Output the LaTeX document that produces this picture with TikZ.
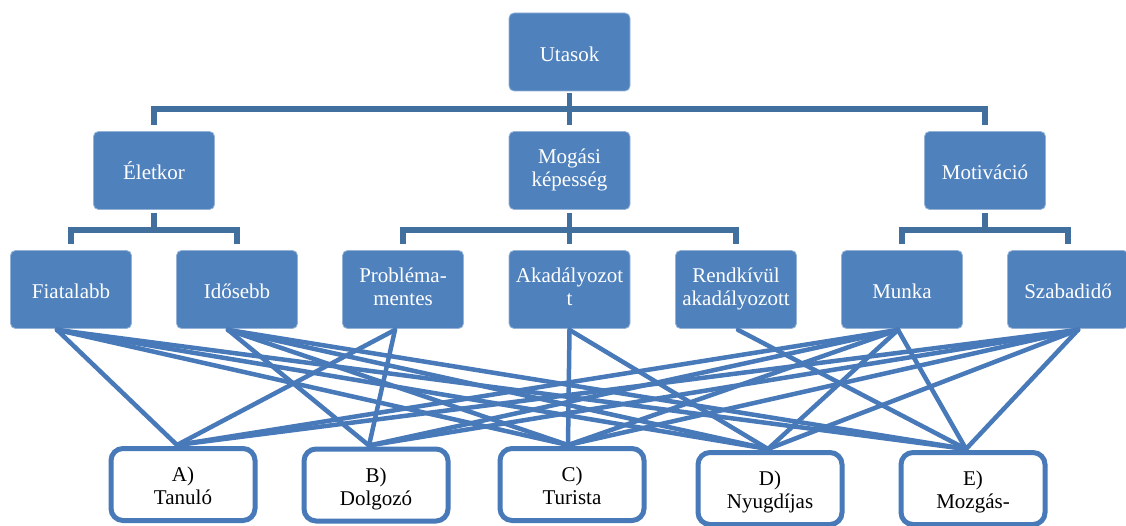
\documentclass[tikz,border=0pt]{standalone}
\usepackage{fontspec}
\setmainfont{Liberation Serif}
\definecolor{boxblue}{HTML}{4F81BD}
\definecolor{treeblue}{HTML}{41709F}
\definecolor{lineblue}{HTML}{4879B8}
\tikzset{
  catbox/.style={draw=boxblue!60!white, line width=0.8pt, fill=boxblue, text=white, rounded corners=5pt,
    minimum width=121pt, minimum height=78pt, inner sep=1pt, align=center,
    font=\fontsize{21}{23}\selectfont},
  groupbox/.style={draw=lineblue, line width=5pt, fill=white, text=black, rounded corners=12pt,
    minimum width=144pt, minimum height=72pt, inner sep=0pt, align=center,
    font=\fontsize{21}{23}\selectfont},
  tree/.style={draw=treeblue, line width=5.5pt},
  link/.style={draw=lineblue, line width=4.5pt, line cap=round},
}
\begin{document}
\begin{tikzpicture}[x=1pt,y=-1pt]
\clip (0,0) rectangle (1126,526);
\fill[white] (0,0) rectangle (1126,526);
% level 1
\node[catbox] (utasok) at (569.5,52) {\rule{0pt}{19pt}Utasok};
% level 2
\node[catbox] (eletkor) at (154,170.5) {\rule{0pt}{19pt}Életkor};
\node[catbox] (mogasi) at (569.5,170.5) {\strut Mogási\\\strut képesség};
\node[catbox] (motiv) at (985,170.5) {\rule{0pt}{19pt}Motiváció};
% level 3
\node[catbox] (fiat) at (71,289.5) {\rule{0pt}{19pt}Fiatalabb};
\node[catbox] (idos) at (237,289.5) {\rule{0pt}{19pt}Idősebb};
\node[catbox] (probl) at (403,289.5) {\strut Probléma-\\\strut mentes};
\node[catbox] (akad) at (569.5,289.5) {\strut Akadályozot\\\strut t};
\node[catbox] (rendk) at (736,289.5) {\strut Rendkívül\\\strut akadályozott};
\node[catbox] (munka) at (902,289.5) {\rule{0pt}{19pt}Munka};
\node[catbox] (szabad) at (1068,289.5) {\rule{0pt}{19pt}Szabadidő};
% level 4
\node[groupbox] (ga) at (183,484.5) {\rule{0pt}{24pt}A)\\Tanuló\rule[-7pt]{0pt}{7pt}};
\node[groupbox] (gb) at (376,485) {\rule{0pt}{24pt}B)\\Dolgozó\rule[-7pt]{0pt}{7pt}};
\node[groupbox] (gc) at (572,484.5) {\rule{0pt}{24pt}C)\\Turista\rule[-7pt]{0pt}{7pt}};
\node[groupbox] (gd) at (770,488.5) {\rule{0pt}{24pt}D)\\Nyugdíjas\rule[-7pt]{0pt}{7pt}};
\node[groupbox] (ge) at (973,488.5) {\rule{0pt}{24pt}E)\\Mozgás-\rule[-7pt]{0pt}{7pt}};
% tree connectors
\draw[tree] ([yshift=-2pt]utasok.south) -- ([yshift=6pt]mogasi.north);
\draw[tree] ([yshift=6pt]eletkor.north) |- ([yshift=22pt]mogasi.north) -| ([yshift=6pt]motiv.north);
\draw[tree] ([yshift=-3pt]eletkor.south) -- ([yshift=-20pt]eletkor.south);
\draw[tree] ([yshift=6pt]fiat.north) |- ([yshift=-20pt]eletkor.south) -| ([yshift=6pt]idos.north);
\draw[tree] ([yshift=-3pt]mogasi.south) -- ([yshift=6pt]akad.north);
\draw[tree] ([yshift=6pt]probl.north) |- ([yshift=-20pt]mogasi.south) -| ([yshift=6pt]rendk.north);
\draw[tree] ([yshift=-3pt]motiv.south) -- ([yshift=-20pt]motiv.south);
\draw[tree] ([yshift=6pt]munka.north) |- ([yshift=-20pt]motiv.south) -| ([yshift=6pt]szabad.north);
% link end points
\coordinate (sF) at ([xshift=-14pt,yshift=-1pt]fiat.south);
\coordinate (sI) at ([xshift=-9pt,yshift=-1pt]idos.south);
\coordinate (sP) at ([xshift=-8pt,yshift=-1pt]probl.south);
\coordinate (sA) at ([xshift=0pt,yshift=-1pt]akad.south);
\coordinate (sR) at ([xshift=2pt,yshift=-1pt]rendk.south);
\coordinate (sM) at ([xshift=-4pt,yshift=-1pt]munka.south);
\coordinate (sS) at ([xshift=10pt,yshift=-1pt]szabad.south);
\coordinate (eA) at ([xshift=-6pt,yshift=1pt]ga.north);
\coordinate (eB) at ([xshift=-7pt,yshift=1pt]gb.north);
\coordinate (eC) at ([xshift=-4pt,yshift=1pt]gc.north);
\coordinate (eD) at ([xshift=-2pt,yshift=1pt]gd.north);
\coordinate (eE) at ([xshift=-7pt,yshift=1pt]ge.north);
\foreach \s/\e in {sF/eA, sF/eC, sF/eD, sF/eE, sI/eB, sI/eC, sI/eD, sI/eE, sP/eA, sP/eB, sA/eC, sA/eD, sR/eE, sM/eA, sM/eB, sM/eC, sM/eD, sM/eE, sS/eA, sS/eB, sS/eC, sS/eD, sS/eE}
  \draw[link] (\s) -- (\e);
\end{tikzpicture}
\end{document}
